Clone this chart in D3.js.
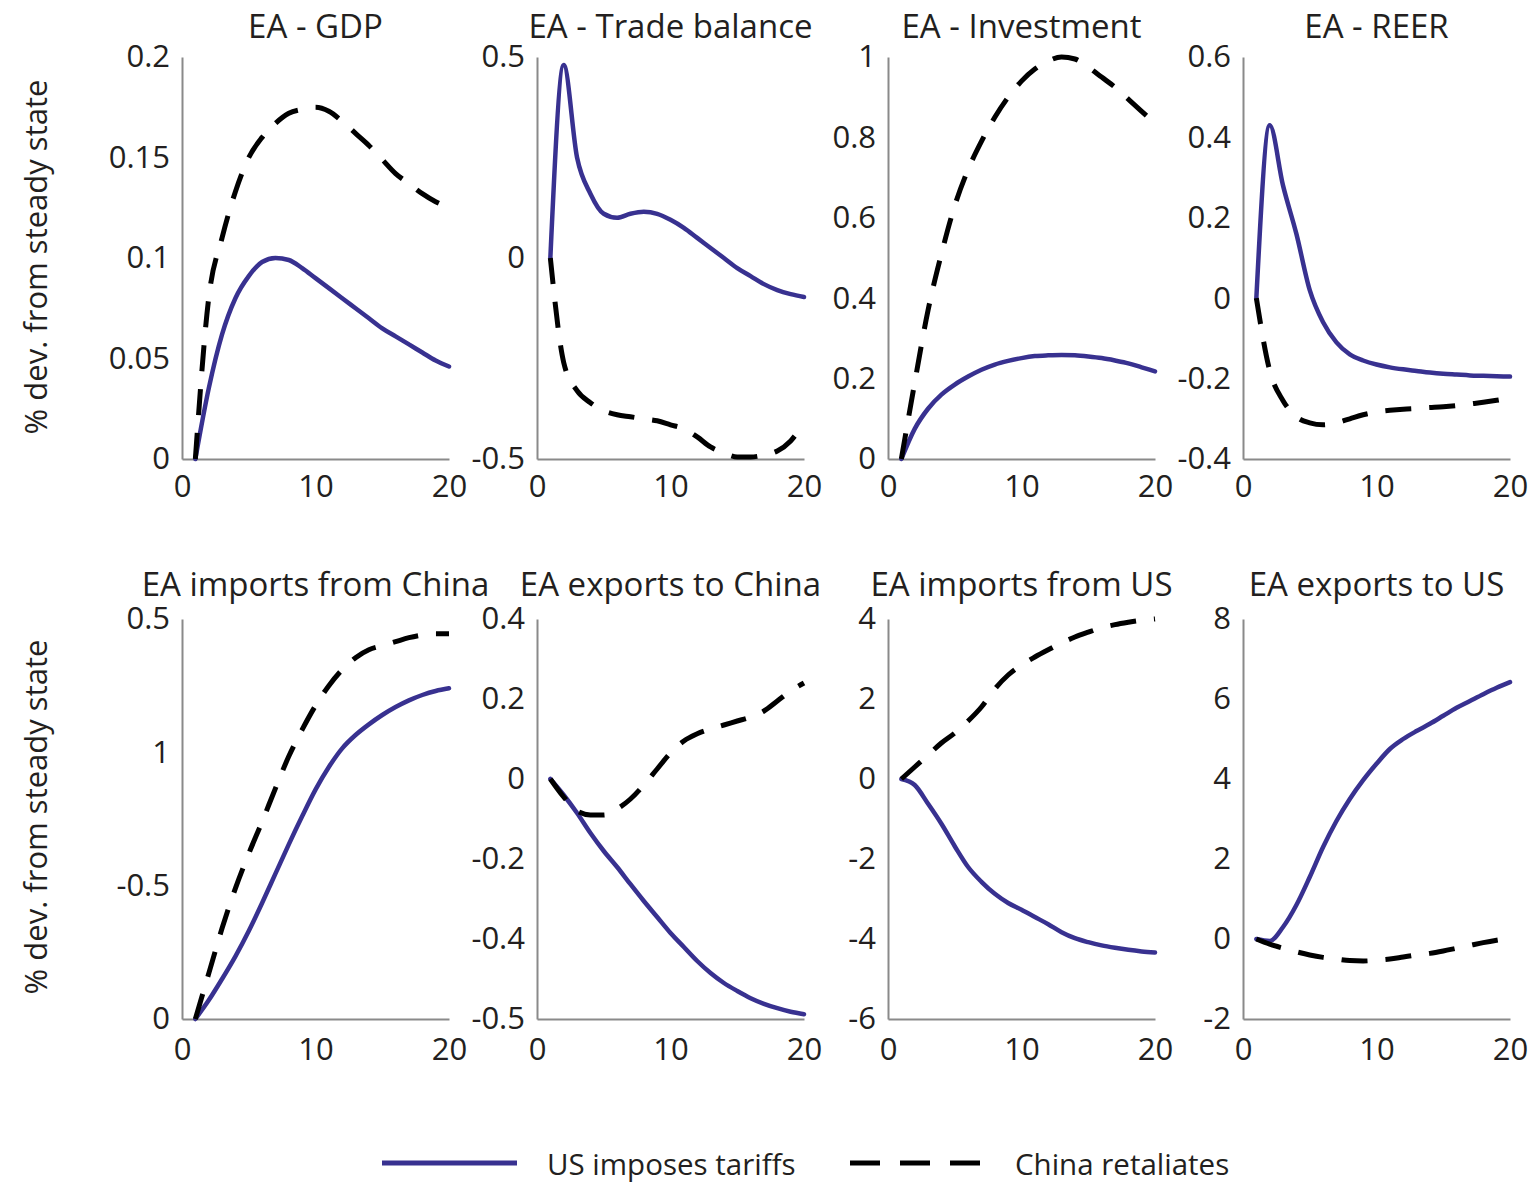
<!DOCTYPE html>
<html>
<head>
<meta charset="utf-8">
<script src="https://cdn.jsdelivr.net/npm/d3@7"></script>
<style>
  html, body { margin: 0; padding: 0; background: #fff; }
  svg { display: block; }
  text { font-family: "Open Sans", sans-serif; fill: #231f20; }
</style>
</head>
<body>
<svg id="chart" width="1530" height="1182"></svg>
<script>
// Quarters after the shock
const quarters = [1, 2, 3, 4, 5, 6, 7, 8, 9, 10, 11, 12, 13, 14, 15, 16, 17, 18, 19, 20];

const panelTitles = [
  "EA - GDP", "EA - Trade balance", "EA - Investment", "EA - REER",
  "EA imports from China", "EA exports to China", "EA imports from US", "EA exports to US"
];

const seriesNames = ["US imposes tariffs", "China retaliates"];

// Scenario 1: US imposes tariffs
const gdpTariff        = [0, 0.035, 0.062, 0.080, 0.091, 0.098, 0.100, 0.099, 0.095, 0.090, 0.085, 0.080, 0.075, 0.070, 0.065, 0.061, 0.057, 0.053, 0.049, 0.046];
const tradeBalTariff   = [0, 0.48, 0.25, 0.16, 0.11, 0.10, 0.11, 0.115, 0.11, 0.095, 0.075, 0.05, 0.025, 0.0, -0.025, -0.045, -0.065, -0.08, -0.09, -0.097];
const investTariff     = [0, 0.075, 0.125, 0.16, 0.185, 0.205, 0.222, 0.235, 0.244, 0.251, 0.256, 0.258, 0.259, 0.258, 0.255, 0.251, 0.245, 0.238, 0.228, 0.218];
const reerTariff       = [0, 0.43, 0.28, 0.16, 0.02, -0.06, -0.11, -0.14, -0.155, -0.165, -0.172, -0.177, -0.181, -0.185, -0.188, -0.19, -0.192, -0.193, -0.194, -0.195];
const impChinaTariff   = [0, 0.07, 0.15, 0.235, 0.33, 0.435, 0.545, 0.655, 0.76, 0.86, 0.945, 1.015, 1.065, 1.105, 1.14, 1.17, 1.195, 1.215, 1.23, 1.24];
const expChinaTariff   = [0, -0.04, -0.085, -0.135, -0.18, -0.22, -0.263, -0.305, -0.345, -0.385, -0.42, -0.455, -0.485, -0.51, -0.53, -0.548, -0.562, -0.573, -0.582, -0.588];
const impUSTariff      = [0, -0.15, -0.62, -1.12, -1.68, -2.2, -2.57, -2.87, -3.1, -3.27, -3.45, -3.63, -3.83, -3.98, -4.08, -4.16, -4.22, -4.27, -4.31, -4.34];
const expUSTariff      = [0, -0.05, 0.3, 0.85, 1.55, 2.3, 2.95, 3.5, 3.97, 4.38, 4.75, 5.0, 5.2, 5.38, 5.58, 5.78, 5.95, 6.12, 6.28, 6.42];

// Scenario 2: China retaliates
const gdpRetal         = [0, 0.080, 0.110, 0.133, 0.150, 0.160, 0.167, 0.172, 0.174, 0.175, 0.173, 0.168, 0.162, 0.156, 0.149, 0.142, 0.137, 0.132, 0.128, 0.125];
const tradeBalRetal    = [0, -0.26, -0.33, -0.36, -0.38, -0.39, -0.395, -0.40, -0.405, -0.415, -0.425, -0.445, -0.47, -0.485, -0.495, -0.495, -0.49, -0.48, -0.455, -0.41];
const investRetal      = [0, 0.19, 0.37, 0.51, 0.63, 0.72, 0.79, 0.85, 0.90, 0.94, 0.97, 0.99, 1.0, 0.995, 0.975, 0.95, 0.925, 0.895, 0.865, 0.835];
const reerRetal        = [0, -0.18, -0.255, -0.295, -0.31, -0.315, -0.31, -0.30, -0.29, -0.283, -0.279, -0.276, -0.274, -0.272, -0.27, -0.267, -0.263, -0.259, -0.254, -0.248];
const impChinaRetal    = [0, 0.17, 0.34, 0.49, 0.62, 0.74, 0.865, 0.985, 1.085, 1.175, 1.25, 1.31, 1.355, 1.385, 1.40, 1.415, 1.43, 1.44, 1.445, 1.445];
const expChinaRetal    = [0, -0.045, -0.08, -0.09, -0.09, -0.075, -0.05, -0.015, 0.025, 0.065, 0.095, 0.113, 0.125, 0.135, 0.145, 0.155, 0.17, 0.195, 0.22, 0.24];
const impUSRetal       = [0, 0.3, 0.6, 0.9, 1.15, 1.45, 1.8, 2.25, 2.6, 2.85, 3.05, 3.23, 3.4, 3.55, 3.67, 3.78, 3.86, 3.92, 3.97, 4.0];
const expUSRetal       = [0, -0.13, -0.23, -0.32, -0.4, -0.46, -0.5, -0.54, -0.55, -0.53, -0.5, -0.45, -0.4, -0.36, -0.3, -0.23, -0.16, -0.09, -0.03, 0.02];

// Axis settings per panel
const yDomains = [[0, 0.2], [-0.5, 0.5], [0, 1], [-0.4, 0.6], [0, 1.5], [-0.6, 0.4], [-6, 4], [-2, 8]];
const yTickValues = [
  [0, 0.05, 0.1, 0.15, 0.2], [-0.5, 0, 0.5], [0, 0.2, 0.4, 0.6, 0.8, 1], [-0.4, -0.2, 0, 0.2, 0.4, 0.6],
  [0, 0.5, 1, 1.5], [-0.6, -0.4, -0.2, 0, 0.2, 0.4], [-6, -4, -2, 0, 2, 4], [-2, 0, 2, 4, 6, 8]
];
const yTickLabels = [
  ["0", "0.05", "0.1", "0.15", "0.2"], ["-0.5", "0", "0.5"], ["0", "0.2", "0.4", "0.6", "0.8", "1"], ["-0.4", "-0.2", "0", "0.2", "0.4", "0.6"],
  ["0", "-0.5", "1", "0.5"], ["-0.5", "-0.4", "-0.2", "0", "0.2", "0.4"], ["-6", "-4", "-2", "0", "2", "4"], ["-2", "0", "2", "4", "6", "8"]
];
const xDomain = [0, 20];
const xTickValues = [0, 10, 20];
const yAxisLabel = "% dev. from steady state";

const tariffSeries = [gdpTariff, tradeBalTariff, investTariff, reerTariff, impChinaTariff, expChinaTariff, impUSTariff, expUSTariff];
const retalSeries  = [gdpRetal, tradeBalRetal, investRetal, reerRetal, impChinaRetal, expChinaRetal, impUSRetal, expUSRetal];

// Layout
const colLeft = [182, 537, 888, 1243];
const plotW = 267;
const rowTop = [57, 619];
const rowBottom = [459, 1019];
const titleY = [25, 583];

const BLUE = "#383190";
const AXIS = "#8a8a8a";
const fontTick = 31;

const svg = d3.select("#chart");

panelTitles.forEach((title, i) => {
  const col = i % 4, row = Math.floor(i / 4);
  const x = d3.scaleLinear().domain(xDomain).range([colLeft[col], colLeft[col] + plotW]);
  const y = d3.scaleLinear().domain(yDomains[i]).range([rowBottom[row], rowTop[row]]);
  const g = svg.append("g");

  // y axis
  const labels = yTickLabels[i];
  const ya = g.append("g")
    .attr("transform", `translate(${colLeft[col]},0)`)
    .call(d3.axisLeft(y).tickValues(yTickValues[i]).tickFormat((d, k) => labels[k]).tickSize(0).tickPadding(12));
  // x axis
  const xa = g.append("g")
    .attr("transform", `translate(0,${rowBottom[row]})`)
    .call(d3.axisBottom(x).tickValues(xTickValues).tickFormat(d3.format("d")).tickSize(0).tickPadding(row === 0 ? 16 : 19));

  [ya, xa].forEach(a => {
    a.select(".domain").attr("stroke", AXIS).attr("stroke-width", 2);
    a.selectAll("text").attr("font-size", fontTick).attr("font-family", '"Open Sans", sans-serif').attr("fill", "#231f20");
  });

  // title
  g.append("text")
    .attr("x", colLeft[col] + plotW / 2)
    .attr("y", titleY[row])
    .attr("text-anchor", "middle")
    .attr("dominant-baseline", "central")
    .attr("font-size", 33)
    .text(title);

  const line = d3.line()
    .x((d, k) => x(quarters[k]))
    .y(d => y(d))
    .curve(d3.curveMonotoneX);

  g.append("path")
    .datum(tariffSeries[i])
    .attr("d", line)
    .attr("fill", "none")
    .attr("stroke", BLUE)
    .attr("stroke-width", 4.5)
    .attr("stroke-linejoin", "round")
    .attr("stroke-linecap", "round");

  g.append("path")
    .datum(retalSeries[i])
    .attr("d", line)
    .attr("fill", "none")
    .attr("stroke", "#000")
    .attr("stroke-width", 5)
    .attr("stroke-dasharray", "26,18")
    .attr("stroke-linecap", "butt");
});

// y-axis titles, one per row
[257, 817].forEach(cy => {
  svg.append("text")
    .attr("transform", `translate(35,${cy}) rotate(-90)`)
    .attr("text-anchor", "middle")
    .attr("dominant-baseline", "central")
    .attr("font-size", 31)
    .text(yAxisLabel);
});

// Legend
const legY = 1163;
svg.append("line").attr("x1", 382).attr("x2", 517).attr("y1", legY).attr("y2", legY)
  .attr("stroke", BLUE).attr("stroke-width", 5);
svg.append("text").attr("x", 547).attr("y", legY).attr("dominant-baseline", "central")
  .attr("font-size", 29.5)
  .text(seriesNames[0]);
svg.append("line").attr("x1", 850).attr("x2", 990).attr("y1", legY).attr("y2", legY)
  .attr("stroke", "#000").attr("stroke-width", 5).attr("stroke-dasharray", "30,20");
svg.append("text").attr("x", 1015).attr("y", legY).attr("dominant-baseline", "central")
  .attr("font-size", 29.5)
  .text(seriesNames[1]);
</script>
</body>
</html>
